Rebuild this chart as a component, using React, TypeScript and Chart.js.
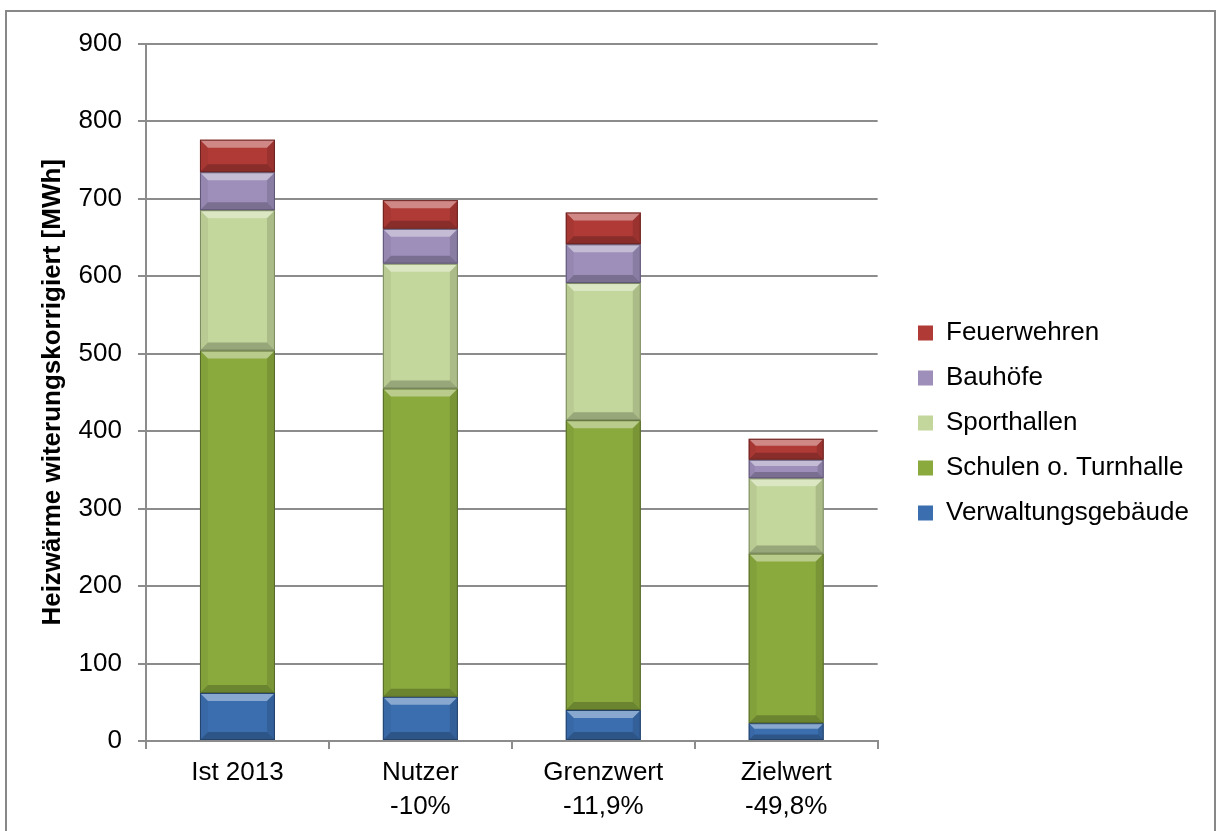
import React, { useEffect, useRef } from "react";
import { Chart, registerables } from "chart.js";

Chart.register(...registerables);

// ---- data ----
const categories: string[][] = [
  ["Ist 2013"],
  ["Nutzer", "-10%"],
  ["Grenzwert", "-11,9%"],
  ["Zielwert", "-49,8%"],
];
const verwaltung = [62, 57, 40, 23];
const schulen = [442, 398, 374, 219];
const sporthallen = [181, 161, 177, 97];
const bauhoefe = [49, 45, 50, 24];
const feuerwehren = [42, 37, 41, 27];
const seriesNames = [
  "Verwaltungsgebäude",
  "Schulen o. Turnhalle",
  "Sporthallen",
  "Bauhöfe",
  "Feuerwehren",
];
const yMin = 0;
const yMax = 900;
const yStep = 100;
const yTitle = "Heizwärme witerungskorrigiert [MWh]";

// ---- styles ----
const FONT = "'Liberation Sans', Arial, sans-serif";
const FS = 26;
const fills = ["#3b6eaf", "#8aaa3e", "#c3d69b", "#9d8fba", "#b03a36"];
const edges = ["#24436b", "#55692a", "#7d8b62", "#5f5675", "#6b2321"];
const GRID = "#8c8c8c";
const CW = 1207;
const CH = 819;
const AREA_LEFT = 139;
const AREA_TOP = 29;
const AREA_RIGHT = 871;
const AREA_BOTTOM = 729;
const LEG_PAD = 19;
const LEG_BOX = 15;
const LEG_MARK_X = 911;
const LEG_FIRST_Y = 321;

function poly(ctx: CanvasRenderingContext2D, pts: number[][], fill: string) {
  ctx.beginPath();
  ctx.moveTo(pts[0][0], pts[0][1]);
  for (let i = 1; i < pts.length; i++) ctx.lineTo(pts[i][0], pts[i][1]);
  ctx.closePath();
  ctx.fillStyle = fill;
  ctx.fill();
}

const bevelPlugin = {
  id: "bevel",
  afterDatasetsDraw(chart: any) {
    const ctx = chart.ctx as CanvasRenderingContext2D;
    chart.data.datasets.forEach((_ds: any, i: number) => {
      const meta = chart.getDatasetMeta(i);
      meta.data.forEach((el: any) => {
        const { x, y, base, width } = el.getProps(["x", "y", "base", "width"], true);
        const l = x - width / 2;
        const r = x + width / 2;
        const t = Math.min(y, base);
        const b = Math.max(y, base);
        const h = b - t;
        const s = Math.min(8, h / 3);
        ctx.save();
        poly(ctx, [[l, t], [r, t], [r - s, t + s], [l + s, t + s]], "rgba(255,255,255,0.4)");
        poly(ctx, [[l, b], [r, b], [r - s, b - s], [l + s, b - s]], "rgba(0,0,0,0.22)");
        poly(ctx, [[l, t], [l + s, t + s], [l + s, b - s], [l, b]], "rgba(0,0,0,0.05)");
        poly(ctx, [[r, t], [r - s, t + s], [r - s, b - s], [r, b]], "rgba(0,0,0,0.12)");
        ctx.strokeStyle = edges[i];
        ctx.lineWidth = 1;
        ctx.strokeRect(l + 0.5, t + 0.5, width - 1, h - 1);
        ctx.restore();
      });
    });
  },
};

const legendShiftPlugin = {
  id: "legendShift",
  afterLayout(chart: any) {
    const lg = chart.legend;
    if (!lg) return;
    const dx = LEG_MARK_X - (lg.left + LEG_PAD);
    lg.left += dx;
    lg.right += dx;
    const colH = lg.columnSizes && lg.columnSizes[0] ? lg.columnSizes[0].height : 5 * (FS + LEG_PAD);
    const y0 = (lg.top + LEG_PAD + lg.bottom - colH) / 2;
    const dy = LEG_FIRST_Y - FS / 2 - y0;
    lg.top += dy;
    lg.bottom += dy;
  },
};

export default function App() {
  const ref = useRef<HTMLCanvasElement>(null);

  useEffect(() => {
    if (!ref.current) return;
    const m = document.createElement("canvas").getContext("2d") as CanvasRenderingContext2D;
    m.font = `${FS}px ${FONT}`;
    const tw = Math.max(...seriesNames.map((n) => m.measureText(n).width));
    const legendW = LEG_PAD + LEG_BOX + FS / 2 + tw;
    const padRight = Math.max(0, CW - AREA_RIGHT - legendW);

    const values = [verwaltung, schulen, sporthallen, bauhoefe, feuerwehren];
    const chart = new Chart(ref.current, {
      type: "bar",
      data: {
        labels: categories,
        datasets: seriesNames.map((name, i) => ({
          label: name,
          data: values[i],
          backgroundColor: fills[i],
          borderColor: edges[i],
          borderWidth: 0,
          borderSkipped: false,
          categoryPercentage: 1,
          barPercentage: 0.41,
        })),
      },
      options: {
        responsive: false,
        animation: false,
        layout: { padding: { left: 0, top: AREA_TOP, right: padRight, bottom: 0 } },
        plugins: {
          tooltip: { enabled: false },
          legend: {
            position: "right",
            reverse: true,
            labels: {
              color: "#000",
              boxWidth: LEG_BOX,
              boxHeight: LEG_BOX,
              padding: LEG_PAD,
              font: { family: FONT, size: FS },
            },
          },
        },
        scales: {
          x: {
            stacked: true,
            grid: {
              display: true,
              drawOnChartArea: false,
              drawTicks: true,
              tickLength: 8,
              color: GRID,
              lineWidth: 2,
              offset: true,
            },
            border: { display: true, color: GRID, width: 2 },
            ticks: {
              color: "#000",
              padding: 7,
              maxRotation: 0,
              autoSkip: false,
              font: { family: FONT, size: FS, lineHeight: 1.3 },
            },
            afterFit: (s: any) => {
              s.height = CH - AREA_BOTTOM;
            },
          },
          y: {
            stacked: true,
            min: yMin,
            max: yMax,
            grid: { color: GRID, lineWidth: 2, tickLength: 8 },
            border: { display: true, color: GRID, width: 2 },
            ticks: {
              stepSize: yStep,
              color: "#000",
              padding: 16,
              font: { family: FONT, size: FS },
            },
            title: {
              display: true,
              text: yTitle,
              color: "#000",
              font: { family: FONT, size: FS, weight: "bold" },
              padding: { top: 30, bottom: 0 },
            },
            afterFit: (s: any) => {
              s.width = AREA_LEFT;
            },
          },
        },
      },
      plugins: [bevelPlugin, legendShiftPlugin],
    } as any);
    return () => chart.destroy();
  }, []);

  return (
    <div
      style={{
        position: "absolute",
        left: 5,
        top: 10,
        width: CW,
        height: CH,
        borderTop: "2px solid #888",
        borderLeft: "2px solid #888",
        borderRight: "2px solid #888",
        borderBottom: "none",
        background: "#fff",
      }}
    >
      <canvas ref={ref} width={CW} height={CH} style={{ display: "block", width: CW, height: CH }} />
    </div>
  );
}
